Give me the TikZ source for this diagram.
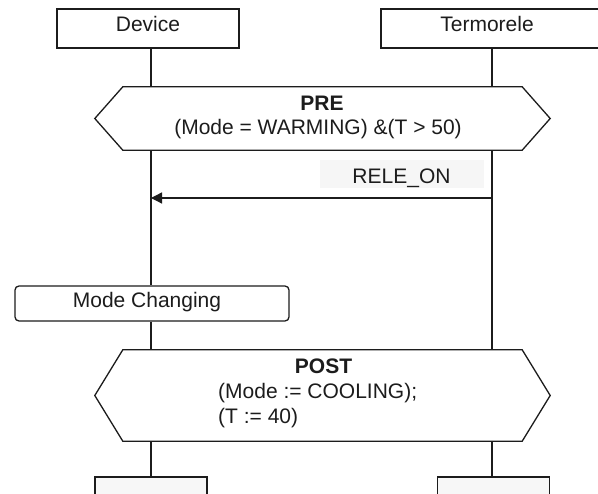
\documentclass[tikz,border=0pt]{standalone}
\usepackage{fontspec}
\setmainfont{Liberation Sans}
\usetikzlibrary{arrows.meta}
\definecolor{inkline}{HTML}{1C1C1C}
\definecolor{labelbg}{HTML}{F6F6F6}
\definecolor{endbg}{HTML}{F7F7F7}
\begin{document}
\begin{tikzpicture}[x=1pt,y=-1pt,
  lbl/.style={font=\fontsize{21}{24}\selectfont, text=inkline, inner sep=0pt, anchor=base},
  ttl/.style={lbl, font=\fontsize{21}{24}\selectfont\bfseries},
  actor/.style={draw=inkline, line width=1.3pt, fill=white, minimum height=39pt, inner sep=0pt},
  endbox/.style={draw=inkline, line width=1.3pt, fill=endbg, minimum width=112pt, minimum height=30pt, inner sep=0pt},
  hexbody/.style={minimum width=399pt, inner sep=0pt},
  hexline/.style={draw=inkline, line width=1.3pt, fill=white},
  life/.style={draw=inkline, line width=1.3pt},
  actbox/.style={draw=inkline, line width=1.3pt, fill=white, rounded corners=4pt,
    minimum width=274pt, minimum height=35pt, inner sep=0pt},
  msgarrow/.style={life, -{Triangle[length=11pt,width=11pt]}}]

\useasboundingbox (0,0) rectangle (598,494);
\clip (0,0) rectangle (598,494);
\fill[white] (0,0) rectangle (598,494);

% lifeline axes
\coordinate (devL) at (151,0);
\coordinate (relL) at (492,0);

% instance heads
\node[actor, minimum width=182pt] (dev) at (148,28.5) {};
\node[actor, minimum width=224pt] (rel) at (493,28.5) {};
\node[lbl] (devname) at (148,32) {Device};
\node[lbl] (relname) at (487,32) {Termorele};

% hexagon bodies (condition areas)
\node[hexbody, minimum height=63pt] (pre) at (322.5,118.5) {};
\node[hexbody, minimum height=91pt] (post) at (322.5,395.5) {};

% local action and instance ends
\node[actbox] (mc) at (152,303.5) {};
\node[endbox] (devend) at (151,492) {};
\node[endbox] (relend) at (493.5,492) {};

% lifelines
\draw[life] (dev.south -| devL) -- (pre.north -| devL);
\draw[life] (pre.south -| devL) -- (mc.north -| devL);
\draw[life] (mc.south -| devL) -- (post.north -| devL);
\draw[life] (post.south -| devL) -- (devend.north -| devL);
\draw[life] (rel.south -| relL) -- (pre.north -| relL);
\draw[life] (pre.south -| relL) -- (post.north -| relL);
\draw[life] (post.south -| relL) -- (relend.north -| relL);

% PRE condition
\draw[hexline] (pre.north west) -- (pre.north east) -- ([xshift=28pt]pre.east)
  -- (pre.south east) -- (pre.south west) -- ([xshift=-28pt]pre.west) -- cycle;
\node[ttl] (pretitle) at (322,111) {PRE};
\node[lbl] (precond) at (318,135) {(Mode = WARMING) \&(T > 50)};

% message
\node[fill=labelbg, minimum width=164pt, minimum height=28pt, inner sep=0pt] (msgbg) at (402,174) {};
\node[lbl] (msg) at (401.5,184) {RELE\_ON};
\coordinate (msgsrc) at (relL |- 0,198);
\coordinate (msgdst) at (devL |- 0,198);
\draw[msgarrow] (msgsrc) -- (msgdst);

% action box text
\node[lbl] (mctext) at (147,308) {Mode Changing};

% POST condition
\draw[hexline] (post.north west) -- (post.north east) -- ([xshift=28pt]post.east)
  -- (post.south east) -- (post.south west) -- ([xshift=-28pt]post.west) -- cycle;
\node[ttl] (posttitle) at (323.5,374) {POST};
\node[lbl, anchor=base west] (postone) at (218,399) {(Mode := COOLING);};
\node[lbl, anchor=base west] (posttwo) at (218,424) {(T := 40)};
\end{tikzpicture}
\end{document}
